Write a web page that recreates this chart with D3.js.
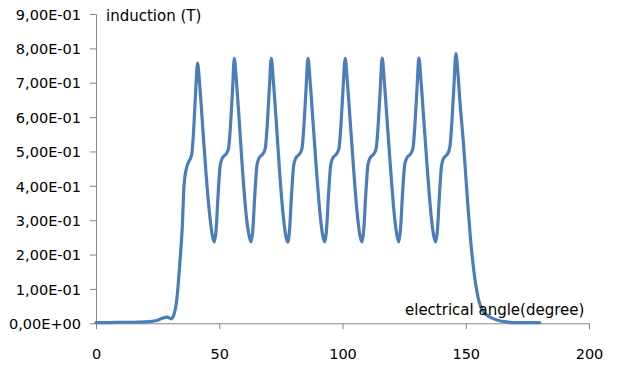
<!DOCTYPE html>
<html>
<head>
<meta charset="utf-8">
<script src="https://cdn.jsdelivr.net/npm/d3@7"></script>
<style>
  html, body { margin: 0; padding: 0; background: #fff; }
  svg { display: block; }
  text { font-family: "DejaVu Sans", sans-serif; fill: #000; }
</style>
</head>
<body>
<div id="chart"></div>
<script>
// Electrical angle (degrees) of each sample
const angle = [
  0, 5, 10, 15, 20, 23, 25, 27, 28.8, 30.5, 31.8, 32.9, 34.0, 35.0, 35.7, 36.5, 37.6, 38.8, 39.6, 40.4, 41.2,
  42.0, 43.2, 44.7, 46.2, 47.2, 48.0, 48.7, 49.5, 50.4, 51.2, 53.0, 53.8, 54.6, 55.4, 56.1,
  56.9, 58.1, 59.5, 61.0, 62.1, 62.9, 63.6, 64.4, 65.3, 66.1, 67.9, 68.7, 69.5, 70.3, 71.1,
  71.9, 73.1, 74.5, 76.0, 77.0, 77.8, 78.5, 79.3, 80.2, 81.0, 82.8, 83.6, 84.4, 85.2, 86.0,
  86.8, 88.0, 89.5, 91.0, 92.0, 92.8, 93.5, 94.3, 95.2, 96.0, 97.8, 98.6, 99.4, 100.2, 101.1,
  101.9, 103.1, 104.6, 106.1, 107.1, 107.9, 108.6, 109.4, 110.3, 111.1, 112.9, 113.7, 114.5, 115.3, 116.1,
  116.9, 118.1, 119.6, 121.1, 122.1, 122.8, 123.5, 124.3, 125.2, 126.0, 127.8, 128.6, 129.4, 130.2, 131.0,
  131.8, 133.0, 134.5, 136.0, 137.0, 137.8, 138.5, 139.3, 140.2, 141.0, 142.8, 143.6, 144.4, 145.2, 146.0,
  146.8, 147.8, 149.0, 150.0, 151.0, 152.0, 153.0, 154.0, 155.0, 156.0, 157.0, 158.5, 160, 163, 166.6, 170, 175, 180
];

// Magnetic induction (T) at each angle
const induction = [
  0.002, 0.002, 0.003, 0.003, 0.004, 0.006, 0.009, 0.015, 0.018, 0.013, 0.030, 0.077, 0.175, 0.280, 0.400, 0.445, 0.470, 0.490, 0.560, 0.670, 0.757,
  0.700, 0.580, 0.430, 0.310, 0.255, 0.237, 0.270, 0.370, 0.460, 0.480, 0.495, 0.510, 0.580, 0.680, 0.771,
  0.710, 0.590, 0.440, 0.310, 0.255, 0.237, 0.270, 0.370, 0.460, 0.480, 0.495, 0.510, 0.580, 0.680, 0.771,
  0.710, 0.590, 0.440, 0.310, 0.255, 0.236, 0.270, 0.370, 0.460, 0.480, 0.495, 0.510, 0.580, 0.680, 0.771,
  0.710, 0.590, 0.440, 0.310, 0.255, 0.237, 0.270, 0.370, 0.460, 0.480, 0.495, 0.510, 0.580, 0.680, 0.771,
  0.710, 0.590, 0.440, 0.310, 0.255, 0.237, 0.270, 0.370, 0.460, 0.480, 0.495, 0.510, 0.580, 0.680, 0.772,
  0.710, 0.590, 0.440, 0.310, 0.255, 0.237, 0.270, 0.370, 0.460, 0.480, 0.495, 0.510, 0.580, 0.680, 0.772,
  0.710, 0.590, 0.440, 0.310, 0.255, 0.237, 0.270, 0.370, 0.460, 0.480, 0.495, 0.515, 0.590, 0.690, 0.785,
  0.730, 0.630, 0.530, 0.430, 0.330, 0.240, 0.170, 0.115, 0.075, 0.050, 0.035, 0.024, 0.017, 0.009, 0.004, 0.002, 0.002, 0.002
];

// Axis ticks
const xTicks = [0, 50, 100, 150, 200];
const yTicks = [0, 0.1, 0.2, 0.3, 0.4, 0.5, 0.6, 0.7, 0.8, 0.9];
const yTickLabels = ["0,00E+00", "1,00E-01", "2,00E-01", "3,00E-01", "4,00E-01",
                     "5,00E-01", "6,00E-01", "7,00E-01", "8,00E-01", "9,00E-01"];

const W = 626, H = 371;
const svg = d3.select("#chart").append("svg")
  .attr("width", W).attr("height", H);

const x = d3.scaleLinear().domain([0, 200]).range([96, 589]);
const y = d3.scaleLinear().domain([0, 0.9]).range([323.3, 14]);

const axisColor = "#868686";

// Vertical axis
const gy = svg.append("g")
  .attr("transform", `translate(${x(0)},0)`)
  .call(d3.axisLeft(y).tickValues(yTicks)
    .tickFormat((d, i) => yTickLabels[i])
    .tickSize(6).tickSizeOuter(0).tickPadding(9));
gy.selectAll("text").style("font-size", "14.5px").attr("dy", "0.36em");

// Horizontal axis
const gx = svg.append("g")
  .attr("transform", `translate(0,${y(0)})`)
  .call(d3.axisBottom(x).tickValues(xTicks)
    .tickSize(6).tickSizeOuter(0).tickPadding(19));
gx.selectAll("text").style("font-size", "14.5px");

svg.selectAll(".domain, .tick line").attr("stroke", axisColor).attr("stroke-width", 1);
svg.selectAll(".tick text").attr("fill", "#000");

// Induction curve
const points = angle.map((a, i) => [a, induction[i]]);
const line = d3.line()
  .x(d => x(d[0]))
  .y(d => y(d[1]))
  .curve(d3.curveMonotoneX);

svg.append("path")
  .datum(points)
  .attr("fill", "none")
  .attr("stroke", "#4a7ebb")
  .attr("stroke-width", 3.2)
  .attr("stroke-linejoin", "round")
  .attr("stroke-linecap", "round")
  .attr("d", line);

// Axis titles
svg.append("text")
  .attr("x", 106).attr("y", 21)
  .style("font-size", "15px")
  .text("induction (T)");

svg.append("text")
  .attr("x", 405).attr("y", 315)
  .style("font-size", "15px")
  .text("electrical angle(degree)");
</script>
</body>
</html>
